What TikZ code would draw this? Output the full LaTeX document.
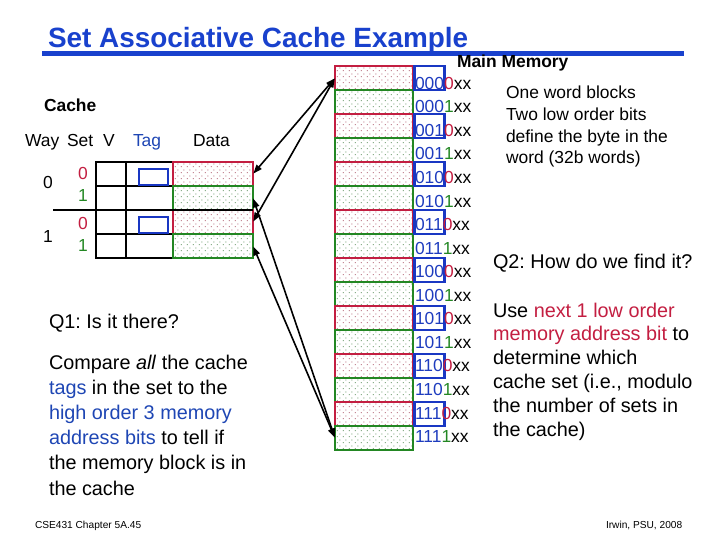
\documentclass[tikz,border=0pt]{standalone}
\usepackage{fontspec}
\setmainfont{Liberation Sans}
\usetikzlibrary{arrows.meta,patterns.meta}
\frenchspacing

\definecolor{tblue}{RGB}{25,65,205}
\definecolor{bblue}{RGB}{25,55,195}
\definecolor{ablue}{RGB}{30,60,190}
\definecolor{qblue}{RGB}{30,70,180}
\definecolor{mred}{RGB}{195,30,65}
\definecolor{mgreen}{RGB}{35,135,35}

\newcommand\fsTitle{\fontsize{28}{33}\selectfont}
\newcommand\fsB{\fontsize{17.5}{21}\selectfont}
\newcommand\fsQ{\fontsize{19.9}{24}\selectfont}
\newcommand\fsS{\fontsize{10.2}{12}\selectfont}

\tikzdeclarepattern{
  name=sdots,
  type=uncolored,
  bottom left={(0bp,0bp)},
  top right={(6bp,6bp)},
  tile size={(6bp,6bp)},
  code={\fill (1bp,1bp) rectangle (2bp,2bp); \fill (4bp,4bp) rectangle (5bp,5bp);}
}

\tikzset{
  txt/.style={inner sep=0pt, outer sep=0pt, anchor=base west},
  memrow/.style={draw, line width=1.8bp, minimum width=78bp, minimum height=24bp, inner sep=0pt, outer sep=0pt, pattern=sdots},
  tagbox/.style={draw=bblue, line width=2.6bp, minimum width=29.5bp, minimum height=24bp, inner sep=0pt},
  ctag/.style={draw=bblue, line width=2.6bp, minimum width=29bp, minimum height=16bp, inner sep=0pt},
  cell/.style={draw=black, line width=1.6bp, minimum height=24bp, inner sep=0pt, outer sep=0pt},
  datacell/.style={draw, line width=1.6bp, minimum width=80bp, minimum height=24bp, inner sep=0pt, outer sep=0pt, pattern=sdots},
  dbl/.style={line width=1.6bp, {Triangle[length=9bp,width=6.5bp]}-{Triangle[length=9bp,width=6.5bp]}, shorten <=0.5bp, shorten >=0.5bp}
}

\begin{document}
\begin{tikzpicture}[x=1bp,y=-1bp]
\useasboundingbox (0,0) rectangle (720,540);

% title
\node[txt, text=tblue, font=\fsTitle\bfseries] (title) at (48,48) {Set Associative Cache Example};
\draw[tblue, line width=5bp] (42,53.5) -- (684,53.5);

\node[txt, font=\fsB\bfseries] (mm) at (457,68) {Main Memory};

% memory rows
\foreach \i in {0,...,15} {
  \pgfmathtruncatemacro\pp{mod(\i,2)}
  \ifnum\pp=0 \def\rc{mred}\else\def\rc{mgreen}\fi
  \node[memrow, draw=\rc, pattern color=\rc!55!gray] (m\i) at (374,{78+24*\i}) {};
}
\foreach \i in {0,2,...,14} {
  \node[tagbox] (b\i) at (429.5,{78+24*\i}) {};
}
\foreach \a/\b/\c [count=\k from 0] in {000/0/mred,000/1/mgreen,001/0/mred,001/1/mgreen,010/0/mred,010/1/mgreen,011/0/mred,011/1/mgreen,100/0/mred,100/1/mgreen,101/0/mred,101/1/mgreen,110/0/mred,110/1/mgreen,111/0/mred,111/1/mgreen} {
  \node[txt, font=\fsB] (a\k) at (415,{89.3+23.55*\k}) {\textcolor{ablue}{\a}\textcolor{\c}{\b}xx};
}

% cache
\node[txt, font=\fsB\bfseries] (cachelbl) at (44,112) {Cache};
\node[txt, font=\fsB] (hway) at (25,147) {Way};
\node[txt, font=\fsB] (hset) at (67,147) {Set};
\node[txt, font=\fsB] (hv) at (103,147) {V};
\node[txt, font=\fsB, text=qblue] (htag) at (133,147) {Tag};
\node[txt, font=\fsB] (hdata) at (193,147) {Data};

\foreach \r in {0,...,3} {
  \node[cell, minimum width=30bp] (v\r) at (111,{174+24*\r}) {};
  \node[cell, minimum width=47bp] (t\r) at (149.5,{174+24*\r}) {};
}
\foreach \r in {0,...,3} {
  \pgfmathtruncatemacro\pp{mod(\r,2)}
  \ifnum\pp=0 \def\rc{mred}\else\def\rc{mgreen}\fi
  \node[datacell, draw=\rc, pattern color=\rc!55!gray] (d\r) at (213,{174+24*\r}) {};
}
\node[ctag] (ct0) at (153.5,177) {};
\node[ctag] (ct2) at (153.5,225) {};
\draw[line width=2.8bp] (53,210) -- (253,210);

\node[txt, font=\fsB] (w0) at (43,189) {0};
\node[txt, font=\fsB] (w1) at (43,243) {1};
\node[txt, font=\fsB, text=mred] (s0) at (78,180) {0};
\node[txt, font=\fsB, text=mgreen] (s1) at (78,201.5) {1};
\node[txt, font=\fsB, text=mred] (s2) at (78,230) {0};
\node[txt, font=\fsB, text=mgreen] (s3) at (78,251.5) {1};

% arrows
\draw[dbl] (m0.west) -- (d0.east);
\draw[dbl] (m0.west) -- (d2.east);
\draw[dbl] (m15.west) -- (d1.east);
\draw[dbl] (m15.west) -- (d3.east);

% right texts
\node[txt, font=\fsB] (r1) at (506,99) {One word blocks};
\node[txt, font=\fsB] (r2) at (506,120.7) {Two low order bits};
\node[txt, font=\fsB] (r3) at (506,142.3) {define the byte in the};
\node[txt, font=\fsB] (r4) at (506,164) {word (32b words)};

\node[txt, font=\fsQ] (q2) at (493,269) {Q2: How do we find it?};
\foreach \t [count=\k from 0] in {{Use \textcolor{mred}{next 1 low order}},{\textcolor{mred}{memory address bit} to},{determine which},{cache set (i.e., modulo},{the number of sets in},{the cache)}} {
  \node[txt, font=\fsQ] (u\k) at (493,{317+23.9*\k}) {\t};
}

% left texts
\node[txt, font=\fsQ] (q1) at (49,328) {Q1: Is it there?};
\foreach \t [count=\k from 0] in {{Compare \textit{all} the cache},{\textcolor{qblue}{tags} in the set to the},{\textcolor{qblue}{high order 3 memory}},{\textcolor{qblue}{address bits} to tell if},{the memory block is in},{the cache}} {
  \node[txt, font=\fsQ] (c\k) at (49,{369+25.2*\k}) {\t};
}

% footers
\node[txt, font=\fsS] (f1) at (35,528) {CSE431 Chapter 5A.45};
\node[txt, font=\fsS] (f2) at (606,528) {Irwin, PSU, 2008};
\end{tikzpicture}
\end{document}
